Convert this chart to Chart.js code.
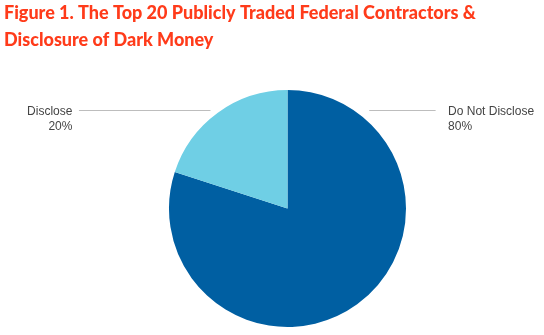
<!DOCTYPE html>
<html>
<head>
<meta charset="utf-8">
<script src="https://cdn.jsdelivr.net/npm/chart.js@4"></script>
<style>
html,body{margin:0;padding:0;background:#fff;}
#wrap{position:relative;width:544px;height:335px;}
</style>
</head>
<body>
<div id="wrap"><canvas id="c" width="544" height="335"></canvas></div>
<script>
const titleLines = ["Figure 1. The Top 20 Publicly Traded Federal Contractors &", "Disclosure of Dark Money"];
const categories = ["Do Not Disclose", "Disclose"];
const values = [80, 20];
const valueLabels = ["80%", "20%"];
const colors = ["#005fa2", "#6fcfe5"];

const overlay = {
  id: 'overlay',
  afterDraw(chart) {
    const ctx = chart.ctx;
    const arc = chart.getDatasetMeta(0).data[0];
    const cx = arc.x, cy = arc.y, r = arc.outerRadius;
    ctx.save();
    // title
    ctx.fillStyle = '#ff3b1a';
    ctx.font = '900 18px Lato';
    ctx.textBaseline = 'alphabetic';
    ctx.textAlign = 'left';
    ctx.fillText(titleLines[0], 4, 19);
    ctx.fillText(titleLines[1], 4, 46);
    // leader lines
    const ly = Math.round(cy - r * 0.835) + 0.5;
    ctx.strokeStyle = '#bdbdbd';
    ctx.lineWidth = 1;
    ctx.beginPath();
    ctx.moveTo(cx - r * 1.76, ly); ctx.lineTo(cx - r * 0.65, ly);
    ctx.moveTo(cx + r * 0.69, ly); ctx.lineTo(cx + r * 1.25, ly);
    ctx.stroke();
    // labels
    ctx.fillStyle = '#444444';
    ctx.font = '12px "Liberation Sans"';
    ctx.textBaseline = 'middle';
    ctx.textAlign = 'right';
    ctx.fillText(categories[1], cx - r * 1.815, ly + 1);
    ctx.fillText(valueLabels[1], cx - r * 1.815, ly + 16);
    ctx.textAlign = 'left';
    ctx.fillText(categories[0], cx + r * 1.355, ly + 1);
    ctx.fillText(valueLabels[0], cx + r * 1.355, ly + 16);
    ctx.restore();
  }
};

new Chart(document.getElementById('c'), {
  type: 'pie',
  data: {
    labels: categories,
    datasets: [{ data: values, backgroundColor: colors, borderWidth: 0 }]
  },
  options: {
    responsive: false,
    animation: false,
    layout: { padding: { left: 169, right: 138, top: 90, bottom: 8 } },
    plugins: { legend: { display: false }, tooltip: { enabled: false }, title: { display: false } }
  },
  plugins: [overlay]
});
</script>
</body>
</html>
